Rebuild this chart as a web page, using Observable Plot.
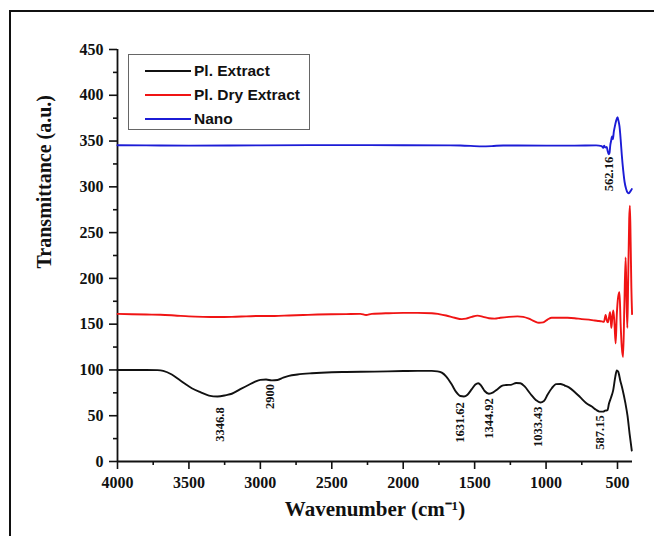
<!DOCTYPE html>
<html><head><meta charset="utf-8">
<script src="https://cdn.jsdelivr.net/npm/d3@7"></script>
<script src="https://cdn.jsdelivr.net/npm/@observablehq/plot@0.6"></script>
<style>
html,body{margin:0;padding:0;background:#fff;}
#wrap{position:relative;width:654px;height:536px;overflow:hidden;background:#fff;}
#frame{position:absolute;left:9px;top:10px;width:700px;height:600px;border:2px solid #111;box-sizing:border-box;pointer-events:none;}
#chart{position:absolute;left:0;top:0;}
#legend{position:absolute;left:128px;top:54px;width:182px;height:76px;border:1.5px solid #666;box-sizing:border-box;background:#fff;
 font-family:"Liberation Sans",Arial,sans-serif;font-weight:bold;font-size:15.5px;color:#111;}
.row{position:absolute;left:16px;height:20px;display:flex;align-items:center;}
.sw{width:46px;height:2px;margin-right:3px;}
</style></head>
<body><div id="wrap"><div id="chart"></div><div id="frame"></div><div id="legend"></div></div>
<script>
// ---- data ----
const seriesNames = ["Pl. Extract", "Pl. Dry Extract", "Nano"];
const seriesColors = ["#111111", "#f01414", "#1c1cd6"];

const extractWave = [4000,3900,3800,3720,3680,3620,3560,3480,3420,3360,3300,3240,3200,3140,3090,3040,3000,2960,2920,2880,2840,2800,2740,2640,2500,2400,2200,2000,1900,1800,1760,1730,1700,1660,1630,1600,1575,1550,1520,1495,1475,1455,1430,1400,1370,1340,1310,1280,1240,1210,1180,1150,1110,1070,1040,1015,990,960,930,900,870,840,800,760,720,680,650,625,600,587,570,560,545,530,515,505,495,480,465,445,430,415,400];
const extractT = [100,100,100,99.8,99,95,88.4,80,75.7,72,71,72.5,74,79,83,87,89.2,89.5,88.6,89,91.5,93.5,95,96.4,97.5,97.8,98.2,98.8,99,99,98.5,97,93,84,76,71.5,71,73,79,84,85.5,83,77,74,75.5,79,82.5,83.5,84,85.8,85.5,82,74,67,64.5,66,73,80,84.5,84.6,83,81,76,70,64,60,56.5,54.5,54.5,55.5,56,63,70,78,93,99.5,98,88,79,64,50,30,12];

const dryWave = [4000,3900,3800,3700,3600,3500,3400,3300,3200,3100,3000,2900,2800,2700,2600,2500,2400,2300,2260,2220,2100,2000,1900,1800,1750,1700,1640,1590,1560,1520,1480,1440,1400,1360,1320,1260,1200,1160,1120,1080,1050,1020,990,960,900,850,800,750,700,660,630,610,595,583,575,567,560,552,547,543,536,529,521,513,505,495,486,478,470,461,452,443,437,431,425,418,413,408,403,398];
const dryT = [161.2,160.8,160.5,160.3,159.5,158.5,158,157.8,158,158.5,159,159,159.5,160,160.5,160.8,161,161.2,160,161.2,162,162.3,162.3,162,161,159.5,157,155.5,156,158,159.3,158,156.5,156,157,158,158.5,158,156,153,151.5,152,155,157,157,157,156.5,155.5,155,154,153.5,153,152.5,160,154,152,157,163,154,146,158,165,150,129,160,180,185,150,125,114,170,223,180,146,200,265,279.5,240,190,161];

const nanoWave = [4000,3800,3500,3000,2500,2000,1600,1450,1380,1300,1000,800,650,610,600,594,585,575,570,562,556,550,545,538,532,526,520,510,500,493,486,478,470,460,450,440,430,420,410,400];
const nanoT = [345.5,345.3,345,345.3,345.6,345.5,345.2,344.2,344.5,345.2,345,345,345.3,344.5,342.5,345,343,343.5,340,335.5,337,346,350,355,352,360,365,372,376,372,366,352,335,318,305,298,294,293,295,297.5];

const peakLabels = ["3346.8","2900","1631.62","1344.92","1033.43","587.15","562.16"];
const peakWave = [3286,2936,1605,1402,1059,625,562];
const peakLabelT = [40.4,71,42.6,47,38,31.7,314];

const xMajorTicks = [4000,3500,3000,2500,2000,1500,1000,500];
const xMinorTicks = [3750,3250,2750,2250,1750,1250,750];
const yMajorTicks = [0,50,100,150,200,250,300,350,400,450];
const yMinorTicks = [25,75,125,175,225,275,325,375,425];

// ---- build ----
const toRows = (ws, ts, name) => ws.map((w, i) => ({w, t: ts[i], name}));
const rows = [
  ...toRows(extractWave, extractT, seriesNames[0]),
  ...toRows(dryWave, dryT, seriesNames[1]),
  ...toRows(nanoWave, nanoT, seriesNames[2])
];
const peaks = peakLabels.map((l, i) => ({label: l, w: peakWave[i], t: peakLabelT[i]}));
const serif = "'Liberation Serif','Times New Roman',serif";

const plot = Plot.plot({
  width: 654, height: 536,
  marginLeft: 117, marginRight: 22, marginTop: 49, marginBottom: 75,
  x: {domain: [4000, 395]},
  y: {domain: [0, 450]},
  color: {domain: seriesNames, range: seriesColors},
  style: {fontFamily: serif, fontSize: "16px", fontWeight: "bold", background: "transparent", color: "#111"},
  marks: [
    Plot.axisX({ticks: xMajorTicks, tickSize: 8, tickPadding: 7, tickFormat: d => String(d), label: null, strokeWidth: 1.6}),
    Plot.axisX({ticks: xMinorTicks, tickSize: 4, text: null, label: null, strokeWidth: 1.6}),
    Plot.axisY({ticks: yMajorTicks, tickSize: 8, tickPadding: 6, tickFormat: d => String(d), label: null, strokeWidth: 1.6}),
    Plot.axisY({ticks: yMinorTicks, tickSize: 4, text: null, label: null, strokeWidth: 1.6}),
    Plot.ruleY([0], {strokeWidth: 1.8, stroke: "#111"}),
    Plot.ruleX([4000], {strokeWidth: 1.8, stroke: "#111"}),
    Plot.line(rows, {x: "w", y: "t", z: "name", stroke: "name", strokeWidth: 1.9, curve: "monotone-x"}),
    Plot.text(peaks, {x: "w", y: "t", text: "label", rotate: -90, fontSize: 12.5, fontWeight: "bold", fill: "#111", textAnchor: "middle", lineAnchor: "middle"}),
    Plot.text(["Wavenumber (cm⁻¹)"], {frameAnchor: "bottom", dy: 54, fontSize: 21, fontWeight: "bold", fill: "#111"}),
    Plot.text(["Transmittance (a.u.)"], {frameAnchor: "left", dx: -73, dy: 13, rotate: -90, fontSize: 20, fontWeight: "bold", fill: "#111"})
  ]
});
document.getElementById("chart").appendChild(plot);

// legend
const lg = document.getElementById("legend");
const rowTops = [6, 30, 54];
seriesNames.forEach((n, i) => {
  const r = document.createElement("div");
  r.className = "row";
  r.style.top = rowTops[i] + "px";
  const sw = document.createElement("div");
  sw.className = "sw";
  sw.style.background = seriesColors[i];
  const tx = document.createElement("span");
  tx.textContent = n;
  r.appendChild(sw); r.appendChild(tx);
  lg.appendChild(r);
});
</script></body></html>
